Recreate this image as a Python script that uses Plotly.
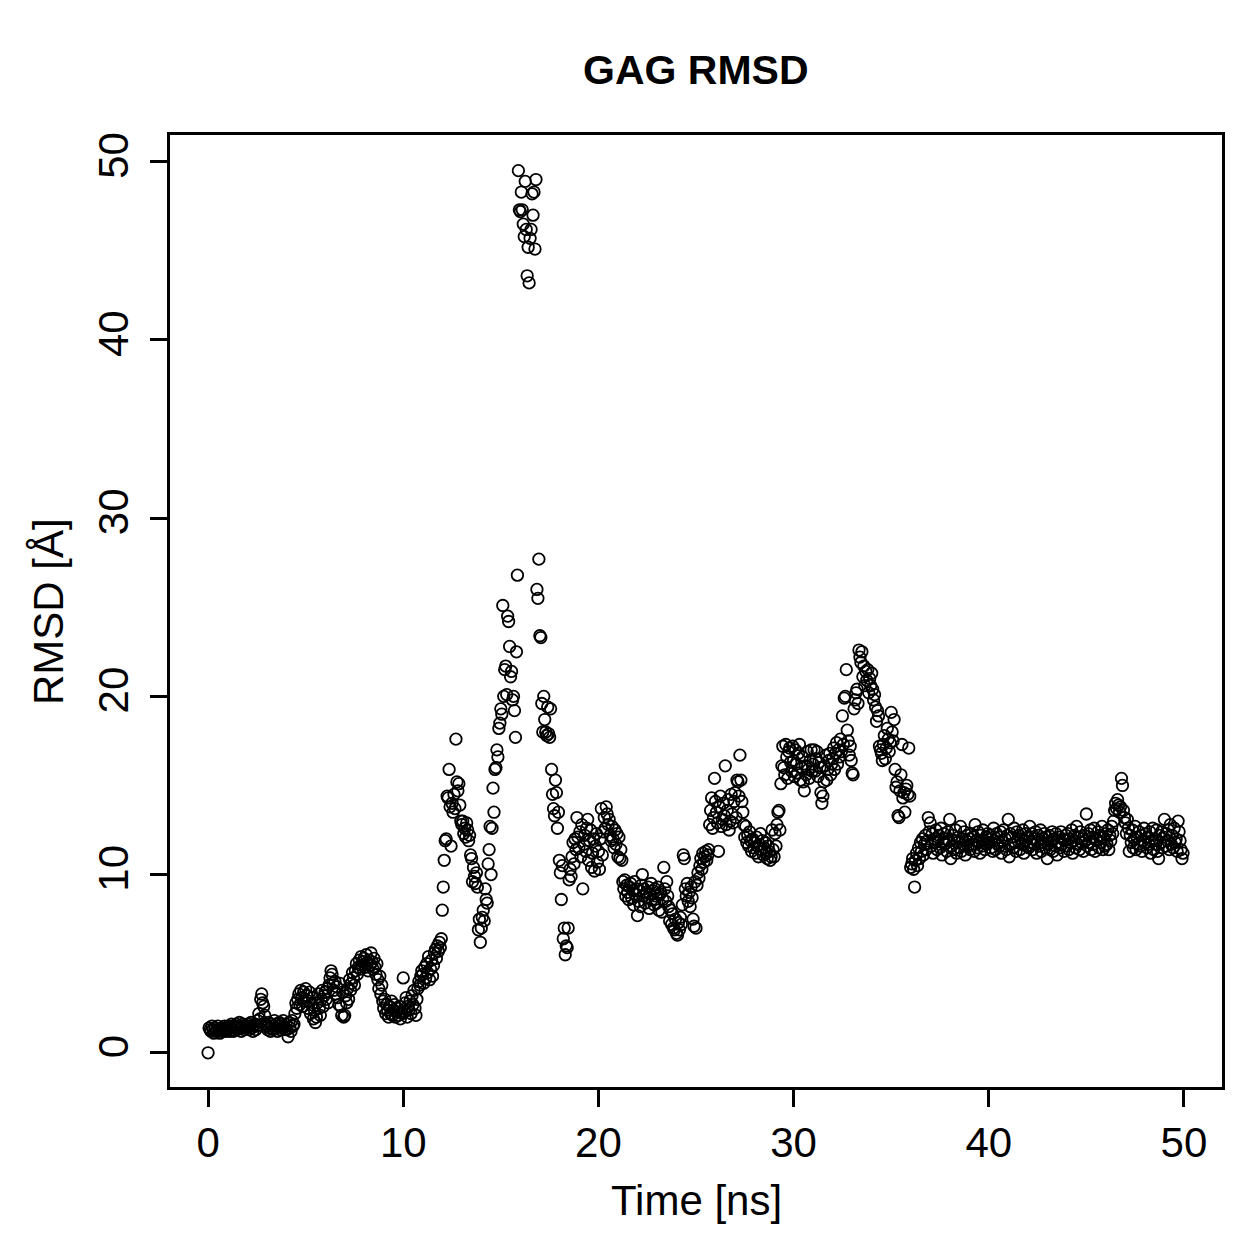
import numpy as np
import plotly.graph_objects as go

# RMSD values (Å), one frame every 0.05 ns, grouped per nanosecond
rmsd_00_10 = [
    0.0,1.4,1.3,1.2,1.5,1.3,1.1,1.4,1.2,1.3,1.5,1.2,1.1,1.3,1.4,1.2,1.3,1.5,1.2,1.4,
    1.3,1.5,1.2,1.4,1.6,1.3,1.2,1.5,1.4,1.6,1.3,1.5,1.7,1.4,1.2,1.5,1.6,1.3,1.4,1.5,
    1.4,1.6,1.3,1.5,1.7,1.4,1.2,1.5,1.6,1.3,1.5,1.8,2.2,1.9,3.0,3.3,2.8,2.6,2.1,1.6,
    1.5,1.3,1.7,1.4,1.2,1.6,1.5,1.3,1.8,1.4,1.6,1.2,1.5,1.7,1.3,1.6,1.4,1.8,1.5,1.3,
    1.6,1.3,0.9,1.7,1.4,1.2,1.8,1.5,1.6,2.2,2.8,2.5,3.0,3.3,2.7,3.5,3.1,2.6,3.4,2.9,
    3.6,3.2,2.5,2.9,3.4,2.2,2.7,3.1,1.9,2.4,1.7,2.0,2.8,3.3,2.5,2.1,3.0,3.5,2.6,3.2,
    3.4,3.0,3.6,2.8,3.8,4.2,4.6,4.4,3.9,3.5,4.0,3.3,3.7,3.1,2.7,3.9,2.6,2.1,3.4,2.0,
    2.1,3.2,2.8,3.6,3.0,4.1,3.5,3.9,4.5,4.2,3.8,4.6,5.0,4.4,4.8,5.2,4.7,5.4,4.9,5.1,
    5.3,4.8,5.5,5.0,4.6,5.2,4.9,5.6,5.1,4.7,5.3,4.8,4.4,5.0,4.1,3.6,4.3,3.3,3.8,2.9,
    2.5,3.0,2.2,2.7,2.4,2.0,2.6,2.2,2.9,2.1,2.4,2.7,2.0,2.3,2.5,2.1,2.6,1.9,2.3,2.2,
]
rmsd_10_20 = [
    4.2,2.3,2.8,3.1,2.0,2.6,2.4,2.9,2.2,3.2,2.7,3.5,2.5,2.1,3.0,3.6,4.0,3.8,4.3,4.6,
    4.4,3.9,4.8,4.2,5.0,4.5,5.4,4.1,4.7,5.2,4.3,4.9,5.6,5.8,5.3,6.0,5.7,6.2,5.9,6.4,
    8.0,9.3,10.8,11.9,12.0,14.4,14.3,15.9,13.8,11.6,14.0,13.5,14.5,13.7,17.6,15.2,14.7,15.1,13.9,13.0,
    12.8,13.0,12.3,12.6,12.1,12.9,12.5,11.9,12.2,11.1,10.9,9.6,10.4,9.9,9.5,10.1,9.3,6.9,7.5,6.2,
    7.0,7.6,8.0,7.4,9.2,8.6,8.4,10.6,11.4,12.7,10.0,12.6,14.85,13.5,15.9,16.0,17.0,16.6,18.2,18.5,
    19.3,19.0,25.1,20.0,21.5,21.7,20.1,24.5,24.2,22.8,21.1,21.4,19.8,20.0,19.2,17.7,22.5,26.8,49.5,47.3,
    47.2,48.3,47.3,46.5,45.8,48.9,46.2,43.6,45.2,43.2,45.7,46.2,48.2,47.0,48.3,45.1,49.0,26.0,25.5,27.7,
    23.4,23.3,19.6,18.0,20.0,18.7,18.0,17.8,19.4,17.9,17.7,19.3,15.9,14.5,13.7,13.3,15.3,14.6,12.6,13.5,
    10.8,10.1,8.6,10.5,6.4,7.0,5.5,6.0,5.9,7.0,9.7,10.3,9.9,11.0,11.8,10.6,12.0,11.4,13.2,12.1,
    11.5,12.4,11.0,12.8,9.2,11.7,12.2,11.3,12.6,13.1,10.8,11.9,12.5,10.4,11.2,12.0,10.2,11.6,12.3,10.7,
]
rmsd_20_30 = [
    11.3,10.3,12.0,13.7,11.1,12.4,13.2,12.6,13.8,13.4,12.8,13.1,12.2,11.9,12.7,12.0,11.5,12.5,11.7,12.3,
    11.0,12.1,10.9,11.4,10.8,9.6,9.2,9.7,8.8,9.4,9.0,8.6,9.3,9.5,8.7,9.1,8.3,9.6,8.9,9.2,
    7.7,8.5,9.1,8.2,9.4,10.0,8.8,9.2,8.4,9.0,8.7,9.3,8.1,8.9,9.5,8.6,9.1,8.3,9.2,8.8,
    8.4,9.3,8.0,8.9,9.0,7.9,8.6,10.4,9.2,8.5,9.6,8.8,8.2,7.4,8.0,7.2,7.8,7.0,6.9,7.5,
    6.7,6.6,7.3,6.9,7.6,7.2,8.3,11.1,10.9,9.2,8.8,9.5,8.5,9.0,8.2,9.3,8.7,7.5,7.1,9.6,
    7.0,9.4,10.1,9.8,10.5,10.9,10.3,11.2,10.7,11.0,11.3,10.8,11.1,11.4,12.8,13.6,14.3,12.6,13.2,15.4,
    14.1,13.5,12.9,11.3,13.8,14.4,12.7,13.1,14.0,13.3,16.1,12.8,13.6,14.2,12.5,13.0,14.5,13.4,12.9,14.1,
    14.6,13.2,15.3,15.2,14.4,16.7,15.3,14.1,13.5,12.8,12.1,12.7,11.8,12.2,11.6,12.4,11.9,11.3,12.0,11.5,
    11.8,11.2,12.1,11.6,11.0,11.7,12.3,11.4,11.9,11.1,11.5,11.8,11.2,10.9,11.6,11.3,10.8,11.0,12.5,11.4,
    11.0,12.3,11.6,12.8,13.5,13.6,12.5,15.1,16.1,17.2,16.0,15.6,17.3,16.6,15.4,16.9,17.1,16.3,15.8,17.2,
]
rmsd_30_40 = [
    16.4,15.5,17.0,16.2,15.7,16.8,17.3,15.3,16.0,16.6,15.2,14.7,16.1,15.6,16.9,15.9,15.4,16.4,17.0,15.8,
    16.2,17.0,15.8,16.5,16.9,15.5,16.3,16.0,14.6,14.0,14.4,15.2,16.1,16.7,15.3,15.9,16.4,16.8,15.6,16.2,
    16.5,17.1,15.9,16.8,17.4,16.2,17.0,16.6,17.6,16.9,18.9,17.3,19.9,20.0,21.5,18.1,17.5,16.7,17.2,16.4,
    15.7,15.6,19.3,19.8,20.2,20.4,19.6,22.6,22.2,21.9,22.5,21.1,21.7,20.6,21.4,20.9,21.5,20.2,21.0,20.6,
    21.3,20.4,19.8,20.1,19.4,18.6,19.2,18.9,17.2,17.0,16.8,16.4,17.3,17.8,16.5,17.1,18.2,17.6,16.9,17.4,
    19.1,18.0,17.5,18.7,15.9,14.9,15.2,13.3,13.2,14.7,15.6,17.3,14.3,14.6,13.5,14.8,15.0,14.5,17.1,14.4,
    10.4,10.6,10.9,10.3,9.3,10.8,11.2,10.5,11.5,10.9,11.8,11.3,12.0,11.1,11.7,12.2,11.4,11.9,13.2,12.4,
    12.9,11.6,12.3,11.2,12.0,11.8,12.5,11.4,11.9,12.2,11.5,12.6,11.1,11.8,12.3,11.7,12.0,11.3,12.4,11.9,
    13.1,10.9,11.6,12.2,11.4,11.9,12.5,11.2,11.8,12.1,11.5,12.7,11.3,12.0,11.7,12.4,11.1,11.9,12.2,11.6,
    12.0,11.4,12.3,11.7,12.1,11.3,12.8,11.9,11.5,12.4,11.8,11.2,12.2,11.6,12.5,11.9,11.4,12.1,11.7,12.3,
]
rmsd_40_50 = [
    11.8,12.2,11.5,12.0,11.3,12.6,11.9,11.4,12.3,11.7,12.1,11.6,12.4,11.2,11.9,12.5,11.6,12.0,11.4,12.2,
    13.1,11.0,12.3,11.7,12.1,11.5,12.6,11.8,11.3,12.4,11.9,12.2,11.4,12.0,11.7,12.5,11.2,11.9,12.3,11.6,
    12.1,11.5,12.7,11.8,12.3,11.4,12.0,11.7,12.4,11.2,11.9,12.2,11.6,12.5,11.3,12.0,11.8,12.3,11.5,12.1,
    10.9,11.7,12.2,11.4,11.9,12.4,11.3,12.0,11.6,12.3,11.1,11.8,12.1,11.5,12.4,11.7,12.0,11.3,11.9,12.2,
    11.6,12.3,11.4,12.0,11.8,12.5,11.2,11.9,12.2,11.5,12.7,11.7,12.1,11.4,12.4,11.8,12.0,11.3,12.2,11.9,
    13.4,11.6,12.3,11.8,12.5,11.4,12.1,11.7,12.6,11.3,12.0,11.9,12.4,11.5,12.2,11.8,12.7,11.4,12.1,11.6,
    12.3,11.7,12.5,11.4,12.2,11.9,12.7,12.3,13.0,13.6,14.0,13.7,14.2,13.9,13.5,13.8,15.4,15.0,13.6,13.2,
    12.9,12.3,13.1,12.6,11.3,12.2,11.8,12.5,11.5,12.0,12.7,11.4,12.1,11.7,12.4,11.6,12.2,11.3,11.9,12.6,
    11.8,12.3,11.5,12.1,11.7,12.4,11.2,11.9,12.6,11.4,12.0,11.7,12.5,11.3,10.9,12.2,11.8,12.4,11.5,12.1,
    13.1,11.6,12.3,11.9,12.5,11.4,12.8,11.7,12.2,11.5,12.6,11.8,12.0,11.3,13.0,12.4,11.9,11.4,10.9,11.2,
]

rmsd = rmsd_00_10 + rmsd_10_20 + rmsd_20_30 + rmsd_30_40 + rmsd_40_50
frame_step_ns = 0.05
time_ns = np.round(np.arange(len(rmsd)) * frame_step_ns, 2)

x_ticks = [0, 10, 20, 30, 40, 50]
y_ticks = [0, 10, 20, 30, 40, 50]

FONT = "Liberation Sans, Arial, Helvetica, sans-serif"

fig = go.Figure()
fig.add_trace(go.Scatter(
    x=time_ns, y=rmsd, mode="markers",
    marker=dict(symbol="circle-open", size=11.5, color="black",
                line=dict(width=1.8, color="black")),
    showlegend=False, hoverinfo="skip",
))

axis_common = dict(
    showline=True, linecolor="black", linewidth=3, mirror=True,
    ticks="outside", ticklen=17, tickwidth=3, tickcolor="black",
    showgrid=False, zeroline=False,
    tickfont=dict(family=FONT, size=42, color="black"),
)

fig.update_layout(
    width=1259, height=1259,
    margin=dict(l=170, r=37, t=135, b=172, autoexpand=False),
    paper_bgcolor="white", plot_bgcolor="white",
    xaxis=dict(range=[-1.95, 51.95], tickvals=x_ticks, ticktext=[str(v) for v in x_ticks],
               **axis_common),
    yaxis=dict(range=[-1.92, 51.5], tickvals=y_ticks, ticktext=[str(v) for v in y_ticks],
               tickangle=-90, ticklabelstandoff=5, **axis_common),
    annotations=[
        dict(text="<b>GAG RMSD</b>", xref="paper", yref="paper", x=0.5, y=(1087 - 70) / 952,
             xanchor="center", yanchor="middle", showarrow=False,
             font=dict(family=FONT, size=41, color="black")),
        dict(text="Time [ns]", xref="paper", yref="paper", x=(696 - 170) / 1052, y=(1087 - 1200) / 952,
             xanchor="center", yanchor="middle", showarrow=False,
             font=dict(family=FONT, size=42, color="black")),
        dict(text="RMSD [Å]", xref="paper", yref="paper", x=(48 - 170) / 1052, y=(1087 - 612) / 952,
             xanchor="center", yanchor="middle", showarrow=False, textangle=-90,
             font=dict(family=FONT, size=42, color="black")),
    ],
)

fig.write_html("out.html")
